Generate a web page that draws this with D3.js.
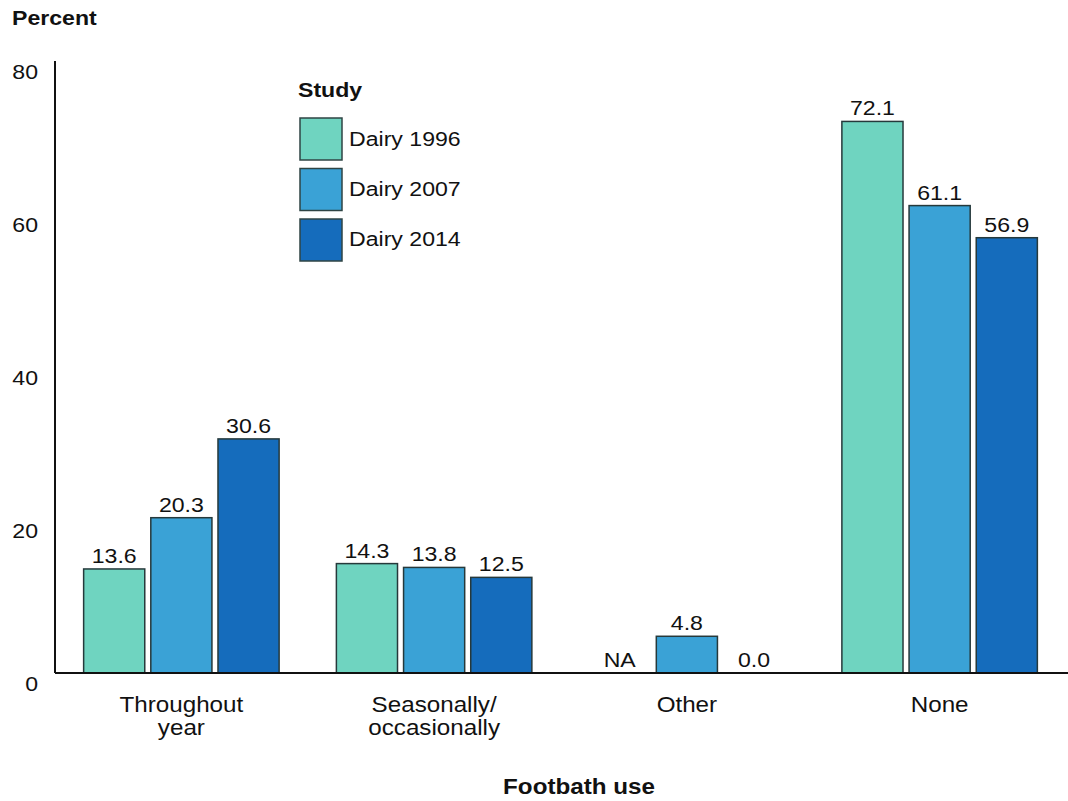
<!DOCTYPE html>
<html>
<head>
<meta charset="utf-8">
<script src="https://cdn.jsdelivr.net/npm/d3@7"></script>
<style>
  html, body { margin: 0; padding: 0; background: #fff; }
  svg { display: block; }
  text { font-family: "Liberation Sans", Arial, sans-serif; fill: #111; }
</style>
</head>
<body>
<svg id="chart" width="1068" height="801"></svg>
<script>
const categories = ["Throughout year", "Seasonally/ occasionally", "Other", "None"];
const categoryLines = [["Throughout", "year"], ["Seasonally/", "occasionally"], ["Other"], ["None"]];
const series = ["Dairy 1996", "Dairy 2007", "Dairy 2014"];
const values1996 = [13.6, 14.3, null, 72.1];
const values2007 = [20.3, 13.8, 4.8, 61.1];
const values2014 = [30.6, 12.5, 0.0, 56.9];
const valueLabels1996 = ["13.6", "14.3", "NA", "72.1"];
const valueLabels2007 = ["20.3", "13.8", "4.8", "61.1"];
const valueLabels2014 = ["30.6", "12.5", "0.0", "56.9"];
const yTicks = [0, 20, 40, 60, 80];
const colors = ["#6fd4c0", "#3aa2d6", "#156cbc"];

const allValues = [values1996, values2007, values2014];
const allLabels = [valueLabels1996, valueLabels2007, valueLabels2014];

const svg = d3.select("#chart");
const SX = 1.1;

function txt(parent, x, y, s, opts = {}) {
  return parent.append("text")
    .attr("transform", `translate(${x},${y}) scale(${SX},1)`)
    .attr("text-anchor", opts.anchor || "start")
    .style("font-size", (opts.size || 21) + "px")
    .style("font-weight", opts.bold ? "bold" : "normal")
    .text(s);
}

const y = d3.scaleLinear().domain([0, 80]).range([673, 61]);
const x0 = d3.scaleBand().domain(categories).range([55, 1066]).paddingInner(0.2).paddingOuter(0.1);
const x1 = d3.scaleBand().domain(series).range([0, x0.bandwidth()]).paddingInner(0.09).paddingOuter(0.05);

// y axis
const yAxis = d3.axisLeft(y).tickValues(yTicks).tickSize(0).tickPadding(17);
const yg = svg.append("g").attr("transform", "translate(55,0)").call(yAxis);
yg.select(".domain").remove();
yg.selectAll("text")
  .attr("dy", null)
  .attr("y", 17)
  .style("font-size", "21px")
  .style("font-family", "'Liberation Sans', Arial, sans-serif")
  .attr("fill", "#111")
  .attr("transform", `scale(${SX},1)`)
  .attr("x", -17 / SX);

svg.append("line").attr("x1", 55).attr("x2", 55).attr("y1", y(80)).attr("y2", y(0))
  .attr("stroke", "#111").attr("stroke-width", 2);

// bars
const groups = svg.append("g");
categories.forEach((c, i) => {
  series.forEach((s, j) => {
    const v = allValues[j][i];
    const bx = x0(c) + x1(s);
    const bw = x1.bandwidth();
    if (v !== null && v > 0) {
      groups.append("rect")
        .attr("x", bx).attr("y", y(v))
        .attr("width", bw).attr("height", y(0) - y(v))
        .attr("fill", colors[j])
        .attr("stroke", "#26393b").attr("stroke-width", 1.5);
    }
    const lv = v === null ? 0 : v;
    txt(groups, bx + bw / 2, y(lv) - 6, allLabels[j][i], { anchor: "middle", size: 21 });
  });
});

// x axis
svg.append("line").attr("x1", 55).attr("x2", 1068).attr("y1", y(0)).attr("y2", y(0))
  .attr("stroke", "#111").attr("stroke-width", 2);

// category labels
categories.forEach((c, i) => {
  const cx = x0(c) + x0.bandwidth() / 2;
  const t = svg.append("text")
    .attr("transform", `translate(${cx},712) scale(${SX},1)`)
    .attr("text-anchor", "middle")
    .style("font-size", "22px");
  categoryLines[i].forEach((ln, k) => {
    t.append("tspan").attr("x", 0).attr("y", k * 23).text(ln);
  });
});

// titles
txt(svg, 12, 25, "Percent", { bold: true, size: 21 });
txt(svg, 579, 794, "Footbath use", { bold: true, size: 22, anchor: "middle" });

// legend
const lg = svg.append("g");
txt(lg, 298, 97, "Study", { bold: true, size: 21 });
series.forEach((s, j) => {
  lg.append("rect").attr("x", 300).attr("y", 118 + j * 50.5)
    .attr("width", 42).attr("height", 42)
    .attr("fill", colors[j]).attr("stroke", "#2f4444").attr("stroke-width", 1.5);
  txt(lg, 349, 146 + j * 50, s, { size: 21 });
});
</script>
</body>
</html>
